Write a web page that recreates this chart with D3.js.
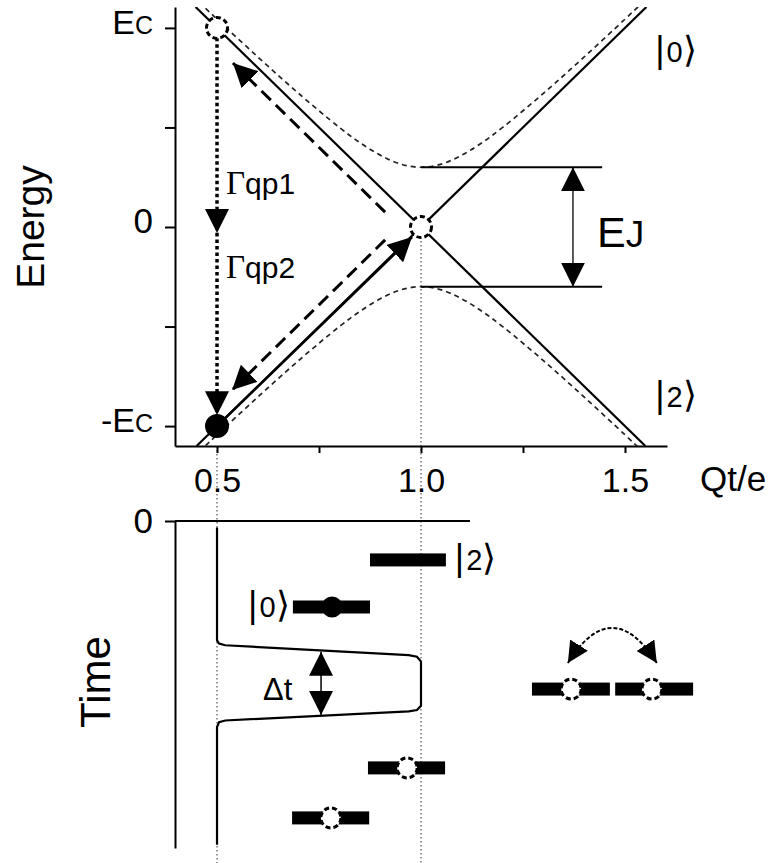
<!DOCTYPE html>
<html>
<head>
<meta charset="utf-8">
<script src="https://cdn.jsdelivr.net/npm/d3@7"></script>
<style>
body { margin: 0; background: #fff; }
svg { display: block; font-family: "Liberation Sans", Arial, sans-serif; }
</style>
</head>
<body>
<svg id="chart" width="783" height="863"></svg>
<script>
//Axis ticks
const chargeTicks = [0.5, 0.75, 1.0, 1.25, 1.5];
const chargeTickLabels = ["0.5", "", "1.0", "", "1.5"];
const energyTicks = [-1, -0.5, 0, 0.5, 1];
const energyLabelValues = [1, 0, -1];
const energyLabelMain = ["E", "0", "-E"];
const energyLabelSub = ["C", "", "C"];

//Charge states, end points [Qt/e, E/Ec]
const levelLine0 = [[0.4475, 1.105], [1.55, -1.1]];
const levelLine2 = [[0.45, -1.1], [1.5525, 1.105]];

//Avoided crossing bands
const bandQ = [0.44, 0.46, 0.5, 0.6, 0.7, 0.8, 0.85, 0.9, 0.95, 1.0, 1.05, 1.1, 1.15, 1.2, 1.3, 1.4, 1.5, 1.54, 1.56];
const bandE = [1.159, 1.121, 1.044, 0.854, 0.671, 0.5, 0.424, 0.361, 0.316, 0.3, 0.316, 0.361, 0.424, 0.5, 0.671, 0.854, 1.044, 1.121, 1.159];

//Circles on the energy diagram
const stateQ = [0.5, 1.0, 0.5];
const stateE = [1, 0, -1];
const stateFilled = [false, false, true];

//Arrows on the energy diagram
const tunnelUp = [[0.912, 0.075], [0.539, 0.824]];
const tunnelDown = [[0.912, -0.065], [0.537, -0.819]];
const pumpArrow = [[0.5, -1], [0.978, -0.05]];
const qp1Arrow = [[0.5, 0.95], [0.5, -0.03]];
const qp2Arrow = [[0.5, -0.03], [0.5, -0.945]];
const ejLevels = [0.3, -0.3];
const ejSpan = [1.0, 1.444];
const ejArrowQ = 1.3725;

//Gate pulse in the time panel
const pulseQ = [0.5, 0.5, 0.505, 0.52, 0.97, 0.99, 1.0, 1.0, 0.99, 0.97, 0.52, 0.505, 0.5, 0.5];
const pulseT = [0.2, 3.65, 3.75, 3.8, 4.1, 4.15, 4.3, 5.65, 5.78, 5.82, 6.1, 6.15, 6.3, 9.9];

//State bars in the time panel
const barStartQ = [0.875, 0.686, 1.272, 1.476, 0.870, 0.684];
const barEndQ = [1.061, 0.875, 1.463, 1.667, 1.059, 0.873];
const barT = [1.19, 2.63, 5.14, 5.14, 7.55, 9.08];
const barDotQ = [null, 0.782, 1.368, 1.566, 0.966, 0.779];
const barDotFilled = [false, true, false, false, false, false];
const dtArrowQ = 0.755;
const dtSpan = [4.0, 5.93];
const swapArc = [[1.36, 4.34], [1.468, 2.2], [1.578, 4.34]];

const svg = d3.select("#chart");

//Scales shared by both panels
const x = d3.scaleLinear().domain([0.397, 1.603]).range([175, 667]);
const yE = d3.scaleLinear().domain([-1.1, 1.105]).range([446, 7]);
const yT = d3.scaleLinear().domain([0, 10]).range([521, 848]);

//Arrow heads
const defs = svg.append("defs");
function addHead(id, size) {
    defs.append("marker")
        .attr("id", id)
        .attr("viewBox", `0 0 ${size} ${size}`)
        .attr("refX", size).attr("refY", size / 2)
        .attr("markerWidth", size).attr("markerHeight", size)
        .attr("markerUnits", "userSpaceOnUse")
        .attr("orient", "auto-start-reverse")
        .append("path")
        .attr("d", `M0,0L${size},${size / 2}L0,${size}Z`)
        .attr("fill", "#000");
}
addHead("head", 24);
addHead("headSmall", 21);

defs.append("clipPath").attr("id", "plot")
    .append("rect")
    .attr("x", x(0.397)).attr("y", yE(1.105))
    .attr("width", x(1.603) - x(0.397))
    .attr("height", yE(-1.1) - yE(1.105));

//Thin dotted guides at 0.5 and 1.0
svg.append("line")
    .attr("x1", x(0.5)).attr("x2", x(0.5))
    .attr("y1", yE(-1.1)).attr("y2", 863)
    .attr("stroke", "#555").attr("stroke-width", 1.2)
    .attr("stroke-dasharray", "1.5,2.5");
svg.append("line")
    .attr("x1", x(1.0)).attr("x2", x(1.0))
    .attr("y1", yE(-0.05)).attr("y2", 863)
    .attr("stroke", "#555").attr("stroke-width", 1.2)
    .attr("stroke-dasharray", "1.5,2.5");

//Energy axes
let xAxis = svg.append("g")
    .attr("transform", `translate(0,${yE(-1.1)})`)
    .call(d3.axisBottom(x).tickValues(chargeTicks).tickSize(7).tickSizeOuter(0)
        .tickPadding(15).tickFormat((d, i) => chargeTickLabels[i]));
xAxis.selectAll("text").attr("font-size", 34).attr("font-family", "Liberation Sans, Arial, sans-serif");

let yAxis = svg.append("g")
    .attr("transform", `translate(${x(0.397)},0)`)
    .call(d3.axisLeft(yE).tickValues(energyTicks).tickSize(10).tickSizeOuter(0).tickFormat(""));

[xAxis, yAxis].forEach(g => {
    g.select(".domain").attr("stroke-width", 2);
    g.selectAll(".tick line").attr("stroke-width", 2);
});

//Energy tick labels, Ec with small C
energyLabelValues.forEach((v, i) => {
    let t = svg.append("text")
        .attr("x", 153)
        .attr("y", yE(v))
        .attr("dy", v === 0 ? "0.4em" : "0.38em")
        .attr("text-anchor", "end");
    t.append("tspan").attr("font-size", v === 0 ? 35 : 34).text(energyLabelMain[i]);
    if (energyLabelSub[i]) t.append("tspan").attr("font-size", 25).text(energyLabelSub[i]);
});

svg.append("text")
    .attr("transform", `translate(44,${yE(0)}) rotate(-90)`)
    .attr("text-anchor", "middle")
    .attr("font-size", 39)
    .text("Energy");

svg.append("text")
    .attr("x", 700).attr("y", 491)
    .attr("font-size", 35)
    .text("Qt/e");

let energyLine = d3.line().x(d => x(d[0])).y(d => yE(d[1]));
let plot = svg.append("g").attr("clip-path", "url(#plot)");

//Dashed bands
let upperBand = bandQ.map((q, i) => [q, bandE[i]]);
let lowerBand = bandQ.map((q, i) => [q, -bandE[i]]);
[upperBand, lowerBand].forEach(band => {
    plot.append("path")
        .attr("d", energyLine.curve(d3.curveCatmullRom)(band))
        .attr("fill", "none").attr("stroke", "#222")
        .attr("stroke-width", 1.7).attr("stroke-dasharray", "5,4");
});
energyLine.curve(d3.curveLinear);

//Solid charge lines
[levelLine0, levelLine2].forEach(l => {
    plot.append("path")
        .attr("d", energyLine(l))
        .attr("fill", "none").attr("stroke", "#000").attr("stroke-width", 2.2);
});

//EJ gap lines and arrow
ejLevels.forEach(e => {
    svg.append("line")
        .attr("x1", x(ejSpan[0])).attr("x2", x(ejSpan[1]))
        .attr("y1", yE(e)).attr("y2", yE(e))
        .attr("stroke", "#000").attr("stroke-width", 2);
});
svg.append("line")
    .attr("x1", x(ejArrowQ)).attr("x2", x(ejArrowQ))
    .attr("y1", yE(ejLevels[0])).attr("y2", yE(ejLevels[1]))
    .attr("stroke", "#000").attr("stroke-width", 1.3)
    .attr("marker-start", "url(#head)").attr("marker-end", "url(#head)");
let ejText = svg.append("text").attr("x", 597).attr("y", 247);
ejText.append("tspan").attr("font-size", 43).text("E");
ejText.append("tspan").attr("font-size", 37).text("J");

//Tunnelling arrows
[tunnelUp, tunnelDown].forEach(a => {
    svg.append("path")
        .attr("d", energyLine(a))
        .attr("fill", "none").attr("stroke", "#000")
        .attr("stroke-width", 3).attr("stroke-dasharray", "13,7")
        .attr("marker-end", "url(#head)");
});
svg.append("path")
    .attr("d", energyLine(pumpArrow))
    .attr("fill", "none").attr("stroke", "#000").attr("stroke-width", 2.6)
    .attr("marker-end", "url(#head)");

//Quasiparticle relaxation arrows
[qp1Arrow, qp2Arrow].forEach(a => {
    svg.append("path")
        .attr("d", energyLine(a))
        .attr("fill", "none").attr("stroke", "#000")
        .attr("stroke-width", 3.5).attr("stroke-dasharray", "3.5,3")
        .attr("marker-end", "url(#head)");
});
[["qp1", 194], ["qp2", 278]].forEach(([s, yb]) => {
    let t = svg.append("text").attr("x", 226).attr("y", yb).attr("font-size", 30);
    t.append("tspan").attr("font-family", "Liberation Serif, serif").attr("font-size", 33).text("Γ");
    t.append("tspan").text(s);
});

//State circles
stateQ.forEach((q, i) => {
    svg.append("circle")
        .attr("cx", x(q)).attr("cy", yE(stateE[i]))
        .attr("r", stateFilled[i] ? 10.5 : 10.5)
        .attr("fill", stateFilled[i] ? "#000" : "#fff")
        .attr("stroke", "#000").attr("stroke-width", 3)
        .attr("stroke-dasharray", stateFilled[i] ? null : "5,3");
});

//Ket labels
function ket(px, py, digit) {
    let t = svg.append("text").attr("x", px).attr("y", py);
    t.append("tspan").attr("font-size", 36).attr("font-weight", 300).text("|");
    t.append("tspan").attr("font-size", 29).attr("dx", 2).text(digit);
    t.append("tspan").attr("font-size", 36).attr("font-family", "DejaVu Sans, sans-serif")
        .attr("font-weight", 300).text("\u27E9");
}
ket(x(1.574), yE(0.83), "0");
ket(x(1.574), yE(-0.905), "2");
ket(x(1.083), yT(1.5), "2");
ket(x(0.576), yT(2.94), "0");

//Time axis
let tAxis = svg.append("g")
    .attr("transform", `translate(${x(0.397)},0)`)
    .call(d3.axisLeft(yT).tickValues([0]).tickSize(10).tickSizeOuter(0).tickPadding(12).tickFormat(d3.format("d")));
tAxis.select(".domain").attr("stroke-width", 2);
tAxis.selectAll(".tick line").attr("stroke-width", 2);
tAxis.selectAll("text").attr("font-size", 35).attr("font-family", "Liberation Sans, Arial, sans-serif");
svg.append("line")
    .attr("x1", x(0.397)).attr("x2", x(1.12))
    .attr("y1", yT(0)).attr("y2", yT(0))
    .attr("stroke", "#000").attr("stroke-width", 2);

svg.append("text")
    .attr("transform", `translate(110,682) rotate(-90)`)
    .attr("text-anchor", "middle")
    .attr("font-size", 42)
    .text("Time");

//Gate pulse
let timeLine = d3.line().x(d => x(d[0])).y(d => yT(d[1]));
svg.append("path")
    .attr("d", timeLine(pulseQ.map((q, i) => [q, pulseT[i]])))
    .attr("fill", "none").attr("stroke", "#000").attr("stroke-width", 2.2);

//Delta t arrow
svg.append("line")
    .attr("x1", x(dtArrowQ)).attr("x2", x(dtArrowQ))
    .attr("y1", yT(dtSpan[0])).attr("y2", yT(dtSpan[1]))
    .attr("stroke", "#000").attr("stroke-width", 1.5)
    .attr("marker-start", "url(#head)").attr("marker-end", "url(#head)");
svg.append("text").attr("x", 263).attr("y", 700).attr("font-size", 31).text("Δt");

//State bars with dots
barStartQ.forEach((q, i) => {
    svg.append("rect")
        .attr("x", x(q)).attr("y", yT(barT[i]) - 6.5)
        .attr("width", x(barEndQ[i]) - x(q)).attr("height", 13)
        .attr("fill", "#000");
    if (barDotQ[i] !== null) {
        svg.append("circle")
            .attr("cx", x(barDotQ[i])).attr("cy", yT(barT[i]))
            .attr("r", barDotFilled[i] ? 9 : 10)
            .attr("fill", barDotFilled[i] ? "#000" : "#fff")
            .attr("stroke", "#000").attr("stroke-width", 3)
            .attr("stroke-dasharray", barDotFilled[i] ? null : "5,3");
    }
});

//Swap arrow above the pair
svg.append("path")
    .attr("d", `M${x(swapArc[0][0])},${yT(swapArc[0][1])} Q${x(swapArc[1][0])},${yT(swapArc[1][1])} ${x(swapArc[2][0])},${yT(swapArc[2][1])}`)
    .attr("fill", "none").attr("stroke", "#000").attr("stroke-width", 2)
    .attr("stroke-dasharray", "4,2")
    .attr("marker-start", "url(#headSmall)").attr("marker-end", "url(#headSmall)");
</script>
</body>
</html>
